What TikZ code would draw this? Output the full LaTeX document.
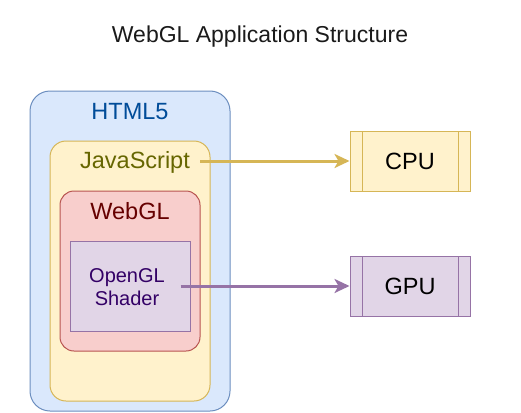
\documentclass[tikz,border=0pt]{standalone}
\usepackage{fontspec}
\setmainfont{Liberation Sans}
\usetikzlibrary{arrows.meta,positioning}

\definecolor{htmlfill}{HTML}{DAE8FC}
\definecolor{htmldraw}{HTML}{6C8EBF}
\definecolor{htmltext}{HTML}{004C99}
\definecolor{jsfill}{HTML}{FFF2CC}
\definecolor{jsdraw}{HTML}{D6B656}
\definecolor{jstext}{HTML}{666600}
\definecolor{glfill}{HTML}{F8CECC}
\definecolor{gldraw}{HTML}{B85450}
\definecolor{gltext}{HTML}{660000}
\definecolor{shfill}{HTML}{E1D5E7}
\definecolor{shdraw}{HTML}{9673A6}
\definecolor{shtext}{HTML}{330066}
\definecolor{titletext}{HTML}{1A1A1A}

\begin{document}
\begin{tikzpicture}[x=1pt,y=-1pt,
        layer/.style={draw,line width=1pt,inner sep=0pt},
        big/.style={font=\fontsize{23.5}{27}\selectfont,inner sep=2pt},
        proc/.style={layer,minimum width=120pt,minimum height=60pt,
            font=\fontsize{23.5}{27}\selectfont,
            path picture={
                \draw[line width=1pt] ([xshift=12pt]path picture bounding box.north west) -- ([xshift=12pt]path picture bounding box.south west);
                \draw[line width=1pt] ([xshift=-12pt]path picture bounding box.north east) -- ([xshift=-12pt]path picture bounding box.south east);
            }},
        link/.style={-{Stealth[length=15pt,width=14pt,inset=4pt]},line width=3pt}
    ]
        \useasboundingbox (0,0) rectangle (521,412);

        % Title
        \node[font=\fontsize{23}{27}\selectfont,text=titletext] (title) at (260,37) {WebGL Application Structure};

        % Define the nested layers
        \node[layer,rounded corners=20pt,draw=htmldraw,fill=htmlfill,minimum width=200pt,minimum height=320pt] (html) at (130,251) {};
        \node[big,text=htmltext] (htmllbl) at (130,112) {HTML5};
        \node[layer,rounded corners=16pt,draw=jsdraw,fill=jsfill,minimum width=160pt,minimum height=260pt] (js) at (130,271) {};
        \node[big,text=jstext] (jslbl) at (135,162) {JavaScript};
        \node[layer,rounded corners=14pt,draw=gldraw,fill=glfill,minimum width=140pt,minimum height=160pt] (webgl) at (130,271) {};
        \node[big,text=gltext] (webgllbl) at (130,211) {WebGL};
        \node[layer,draw=shdraw,fill=shfill,minimum width=120pt,minimum height=90pt] (shader) at (130,286) {};
        \node[font=\fontsize{20}{23}\selectfont,text=shtext,align=center] (shaderlbl) at (127,287) {OpenGL\\Shader};

        % Define the processors
        \node[proc,fill=jsfill,draw=jsdraw] (cpu) at (410,161) {CPU};
        \node[proc,fill=shfill,draw=shdraw] (gpu) at (410,286) {GPU};

        % Draw the links
        \draw [link,jsdraw] ([xshift=8pt]jslbl.east |- cpu.west) -- (cpu);
        \draw [link,shdraw] ([xshift=-10pt]shader.east) -- (gpu);
    \end{tikzpicture}
\end{document}
